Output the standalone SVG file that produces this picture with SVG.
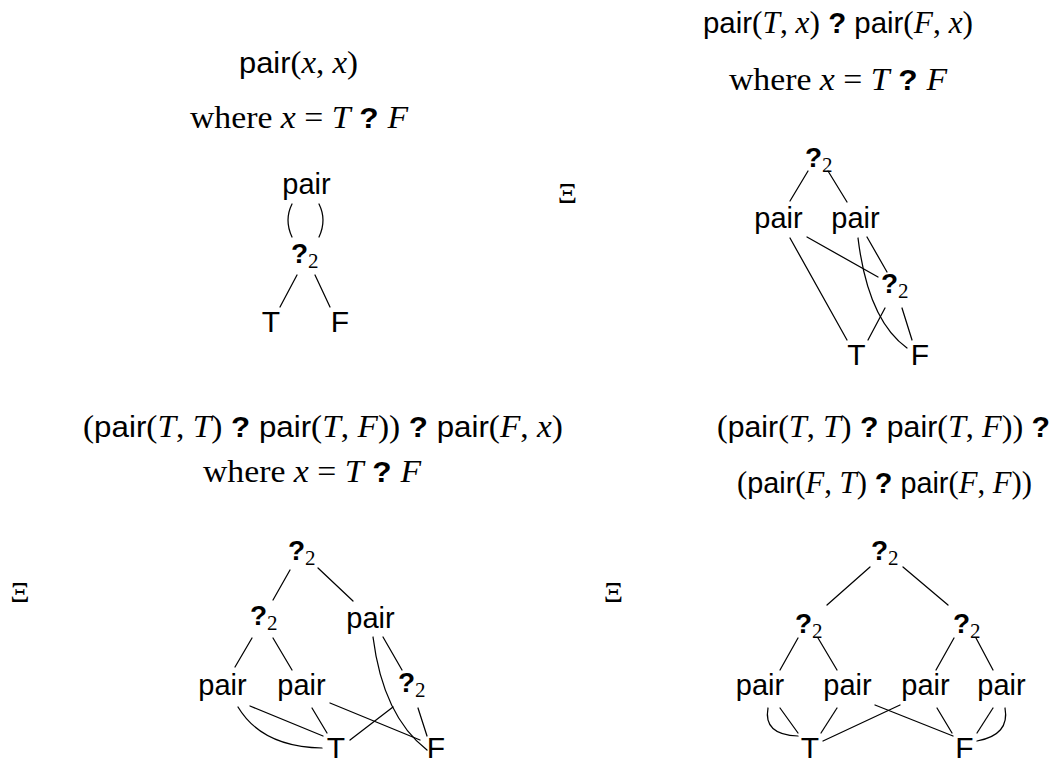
<svg xmlns="http://www.w3.org/2000/svg" width="1054" height="765" viewBox="0 0 1054 765">
<style>
text{fill:#000}
.t{font-family:"Liberation Serif",serif;font-size:32px}
.it{font-style:italic}
.sf{font-family:"Liberation Sans",sans-serif;font-size:30px}
.bq{font-family:"Liberation Sans",sans-serif;font-weight:bold;font-size:30px}
.lbl{font-family:"Liberation Sans",sans-serif;font-size:29px;text-anchor:middle}
.tf{font-family:"Liberation Sans",sans-serif;font-size:30px;text-anchor:middle}
.q{font-family:"Liberation Sans",sans-serif;font-weight:bold;font-size:28px}
.sub{font-family:"Liberation Serif",serif;font-weight:normal;font-size:21px}
.xi{font-family:"Liberation Serif",serif;font-size:30px;text-anchor:middle}
.e line,.e path{fill:none;stroke:#000;stroke-width:1.25;stroke-linecap:round}
</style>
<rect width="1054" height="765" fill="#fff"/>
<g id="titles">
<text class="t" x="239" y="73" textLength="119" lengthAdjust="spacingAndGlyphs"><tspan class="sf">pair</tspan>(<tspan class="it">x</tspan>, <tspan class="it">x</tspan>)</text>
<text class="t" x="190" y="128" textLength="218" lengthAdjust="spacingAndGlyphs">where <tspan class="it">x</tspan> = <tspan class="it">T</tspan><tspan class="bq"> ? </tspan><tspan class="it">F</tspan></text>
<text class="t" x="703" y="33" textLength="270" lengthAdjust="spacingAndGlyphs"><tspan class="sf">pair</tspan>(<tspan class="it">T</tspan>, <tspan class="it">x</tspan>)<tspan class="bq"> ? </tspan><tspan class="sf">pair</tspan>(<tspan class="it">F</tspan>, <tspan class="it">x</tspan>)</text>
<text class="t" x="729" y="90" textLength="218" lengthAdjust="spacingAndGlyphs">where <tspan class="it">x</tspan> = <tspan class="it">T</tspan><tspan class="bq"> ? </tspan><tspan class="it">F</tspan></text>
<text class="t" x="83" y="437" textLength="480" lengthAdjust="spacingAndGlyphs">(<tspan class="sf">pair</tspan>(<tspan class="it">T</tspan>, <tspan class="it">T</tspan>)<tspan class="bq"> ? </tspan><tspan class="sf">pair</tspan>(<tspan class="it">T</tspan>, <tspan class="it">F</tspan>))<tspan class="bq"> ? </tspan><tspan class="sf">pair</tspan>(<tspan class="it">F</tspan>, <tspan class="it">x</tspan>)</text>
<text class="t" x="203" y="482" textLength="218" lengthAdjust="spacingAndGlyphs">where <tspan class="it">x</tspan> = <tspan class="it">T</tspan><tspan class="bq"> ? </tspan><tspan class="it">F</tspan></text>
<text class="t" x="717" y="437" textLength="333" lengthAdjust="spacingAndGlyphs">(<tspan class="sf">pair</tspan>(<tspan class="it">T</tspan>, <tspan class="it">T</tspan>)<tspan class="bq"> ? </tspan><tspan class="sf">pair</tspan>(<tspan class="it">T</tspan>, <tspan class="it">F</tspan>))<tspan class="bq"> ?</tspan></text>
<text class="t" x="737" y="493" textLength="295" lengthAdjust="spacingAndGlyphs">(<tspan class="sf">pair</tspan>(<tspan class="it">F</tspan>, <tspan class="it">T</tspan>)<tspan class="bq"> ? </tspan><tspan class="sf">pair</tspan>(<tspan class="it">F</tspan>, <tspan class="it">F</tspan>))</text>
</g>
<g id="xi-symbols">
<text class="xi" x="567.5" y="203">Ξ</text>
<text class="xi" x="20" y="602">Ξ</text>
<text class="xi" x="613.5" y="602">Ξ</text>
</g>
<g id="connectors" class="e">
<path d="M292 204 Q284 220 292 237"/>
<path d="M319 204 Q327 220 319 237"/>
<line x1="297" y1="275" x2="280" y2="307"/>
<line x1="315" y1="275" x2="330" y2="307"/>
<line x1="808" y1="171" x2="790" y2="201"/>
<line x1="828" y1="171" x2="847" y2="202"/>
<line x1="790" y1="238" x2="847" y2="340"/>
<line x1="807" y1="237" x2="878" y2="277"/>
<path d="M858 238 Q868 320 907 348"/>
<line x1="867" y1="237" x2="887" y2="272"/>
<line x1="885" y1="308" x2="868" y2="340"/>
<line x1="902" y1="308" x2="912" y2="340"/>
<line x1="290" y1="570" x2="273" y2="600"/>
<line x1="318" y1="568" x2="353" y2="601"/>
<line x1="252" y1="638" x2="235" y2="667"/>
<line x1="273" y1="638" x2="292" y2="670"/>
<line x1="383" y1="637" x2="402" y2="670"/>
<path d="M373 637 Q383 716 427 750"/>
<line x1="393" y1="707" x2="350" y2="740"/>
<line x1="418" y1="708" x2="427" y2="736"/>
<path d="M238 707 Q262 747 322 748"/>
<line x1="250" y1="706" x2="323" y2="736"/>
<line x1="312" y1="708" x2="327" y2="733"/>
<line x1="330" y1="703" x2="420" y2="740"/>
<line x1="870" y1="567" x2="827" y2="605"/>
<line x1="903" y1="567" x2="948" y2="605"/>
<line x1="798" y1="638" x2="780" y2="670"/>
<line x1="818" y1="638" x2="837" y2="670"/>
<line x1="954" y1="638" x2="936" y2="670"/>
<line x1="976" y1="638" x2="993" y2="670"/>
<path d="M768 708 Q763 735 798 736"/>
<line x1="780" y1="708" x2="798" y2="733"/>
<line x1="837" y1="708" x2="821" y2="733"/>
<line x1="875" y1="705" x2="953" y2="736"/>
<line x1="900" y1="705" x2="823" y2="741"/>
<line x1="937" y1="708" x2="952" y2="733"/>
<line x1="993" y1="708" x2="977" y2="733"/>
<path d="M1005 708 Q1010 735 977 741"/>
</g>
<g id="tl-pair"><text class="lbl" x="306.5" y="194">pair</text></g>
<g id="tl-q"><text class="q" x="291" y="263">?<tspan class="sub" dy="5">2</tspan></text></g>
<g id="tl-T"><text class="tf" x="271" y="332">T</text></g>
<g id="tl-F"><text class="tf" x="340" y="332">F</text></g>
<g id="tr-q1"><text class="q" x="805" y="167">?<tspan class="sub" dy="5">2</tspan></text></g>
<g id="tr-pair1"><text class="lbl" x="778.5" y="228">pair</text></g>
<g id="tr-pair2"><text class="lbl" x="855.5" y="228">pair</text></g>
<g id="tr-q2"><text class="q" x="881" y="293">?<tspan class="sub" dy="5">2</tspan></text></g>
<g id="tr-T"><text class="tf" x="856.5" y="365">T</text></g>
<g id="tr-F"><text class="tf" x="920" y="365">F</text></g>
<g id="bl-q1"><text class="q" x="288" y="560">?<tspan class="sub" dy="5">2</tspan></text></g>
<g id="bl-q2"><text class="q" x="250" y="625">?<tspan class="sub" dy="5">2</tspan></text></g>
<g id="bl-pair3"><text class="lbl" x="370.5" y="628">pair</text></g>
<g id="bl-q3"><text class="q" x="398" y="692">?<tspan class="sub" dy="5">2</tspan></text></g>
<g id="bl-pair1"><text class="lbl" x="222.5" y="695">pair</text></g>
<g id="bl-pair2"><text class="lbl" x="301.5" y="695">pair</text></g>
<g id="bl-T"><text class="tf" x="336" y="758">T</text></g>
<g id="bl-F"><text class="tf" x="436" y="758">F</text></g>
<g id="br-q1"><text class="q" x="871" y="560">?<tspan class="sub" dy="5">2</tspan></text></g>
<g id="br-q2"><text class="q" x="795" y="633">?<tspan class="sub" dy="5">2</tspan></text></g>
<g id="br-q3"><text class="q" x="953" y="633">?<tspan class="sub" dy="5">2</tspan></text></g>
<g id="br-pair1"><text class="lbl" x="760" y="695">pair</text></g>
<g id="br-pair2"><text class="lbl" x="847.5" y="695">pair</text></g>
<g id="br-pair3"><text class="lbl" x="925.5" y="695">pair</text></g>
<g id="br-pair4"><text class="lbl" x="1001.5" y="695">pair</text></g>
<g id="br-T"><text class="tf" x="810" y="758">T</text></g>
<g id="br-F"><text class="tf" x="964.5" y="758">F</text></g>
</svg>
